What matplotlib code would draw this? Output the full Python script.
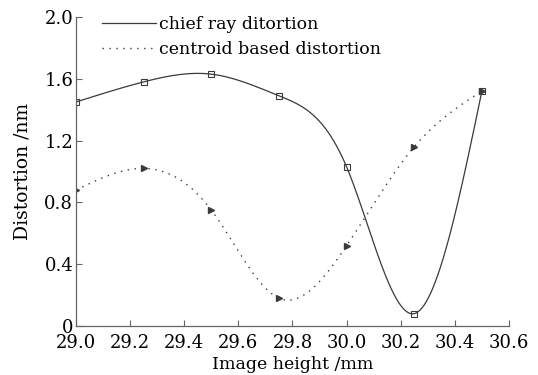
import numpy as np
import matplotlib
matplotlib.use("Agg")
import matplotlib.pyplot as plt

# data
image_height = [29.0, 29.25, 29.5, 29.75, 30.0, 30.25, 30.5]
chief_ray = [1.45, 1.58, 1.63, 1.49, 1.03, 0.08, 1.52]
centroid = [0.88, 1.02, 0.75, 0.18, 0.52, 1.16, 1.52]

x_ticks = [29.0, 29.2, 29.4, 29.6, 29.8, 30.0, 30.2, 30.4, 30.6]
y_ticks = [0, 0.4, 0.8, 1.2, 1.6, 2.0]
y_tick_labels = ["0", "0.4", "0.8", "1.2", "1.6", "2.0"]


def smooth_line(x, y, n=400):
  # natural cubic spline through the points (smooth line of the original)
  x = np.asarray(x, float)
  y = np.asarray(y, float)
  k = len(x)
  h = np.diff(x)
  A = np.zeros((k, k))
  b = np.zeros(k)
  A[0, 0] = 1
  A[-1, -1] = 1
  for i in range(1, k - 1):
    A[i, i - 1] = h[i - 1]
    A[i, i] = 2 * (h[i - 1] + h[i])
    A[i, i + 1] = h[i]
    b[i] = 6 * ((y[i + 1] - y[i]) / h[i] - (y[i] - y[i - 1]) / h[i - 1])
  m = np.linalg.solve(A, b)
  xs = np.linspace(x[0], x[-1], n)
  idx = np.clip(np.searchsorted(x, xs) - 1, 0, k - 2)
  x0 = x[idx]
  x1 = x[idx + 1]
  hh = x1 - x0
  t0 = x1 - xs
  t1 = xs - x0
  ys = (m[idx] * t0 ** 3 + m[idx + 1] * t1 ** 3) / (6 * hh) \
    + (y[idx] / hh - m[idx] * hh / 6) * t0 \
    + (y[idx + 1] / hh - m[idx + 1] * hh / 6) * t1
  return xs, ys


plt.rcParams['font.family'] = ['DejaVu Serif']
fig = plt.figure(figsize=(5.38, 3.75), dpi=100)
ax = fig.add_axes([0.1413, 0.1307, 0.8047, 0.824])

line_col = "#3a3a3a"
xs, ys = smooth_line(image_height, chief_ray)
ax.plot(xs, ys, color=line_col, lw=0.9, label="chief ray ditortion")
ax.plot(image_height, chief_ray, linestyle="none", marker="s", ms=3.8,
        mfc="none", mec=line_col, mew=0.8)

xs, ys = smooth_line(image_height, centroid)
ax.plot(xs, ys, color=line_col, lw=1.0, linestyle=(0, (1, 4)),
        label="centroid based distortion")
ax.plot(image_height, centroid, linestyle="none", marker=">", ms=3.8,
        color=line_col, mec=line_col)

ax.set_xlim(29.0, 30.6)
ax.set_ylim(0, 2.0)
ax.set_xticks(x_ticks)
ax.set_xticklabels(["%.1f" % v for v in x_ticks])
ax.set_yticks(y_ticks)
ax.set_yticklabels(y_tick_labels)
ax.tick_params(direction="in", length=4, width=0.8, color="#666666",
               labelsize=13, pad=2)
ax.tick_params(axis="x", pad=6)
for side in ["top", "right"]:
  ax.spines[side].set_visible(False)
for side in ["left", "bottom"]:
  ax.spines[side].set_color("#666666")
  ax.spines[side].set_linewidth(0.9)

ax.set_xlabel("Image height /mm", fontsize=12.5, labelpad=3)
ax.set_ylabel("Distortion /nm", fontsize=13.5, labelpad=9)

ax.legend(loc="upper left", bbox_to_anchor=(0.04, 1.03), frameon=False,
          fontsize=12.5, handlelength=3.1, handletextpad=0.2,
          labelspacing=0.45, borderpad=0)

fig.savefig("out.png", dpi=100)
